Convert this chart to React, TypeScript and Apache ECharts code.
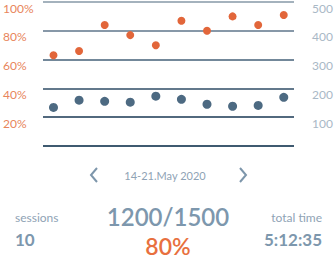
import React, { useEffect, useRef } from "react";
import * as echarts from "echarts";

const dayIndex = [0, 1, 2, 3, 4, 5, 6, 7, 8, 9];
const completionPct = [63, 66, 84, 77, 70, 87, 80, 90, 84, 91];
const sessionValues = [134, 159, 155, 152, 173, 162, 145, 138, 141, 169];
const leftTicks = ["0%", "20%", "40%", "60%", "80%", "100%"];
const dateLabel = "14-21.May 2020";
const sessionsLabel = "sessions";
const sessionsCount = "10";
const ratioLabel = "1200/1500";
const ratioPct = "80%";
const totalTimeLabel = "total time";
const totalTimeValue = "5:12:35";

const FONT = "Lato, 'Open Sans', sans-serif";
const BLUE_TEXT = "#7d97ad";
const ORANGE = "#e2663a";

export default function App() {
  const ref = useRef<HTMLDivElement>(null);
  useEffect(() => {
    if (!ref.current) return;
    const chart = echarts.init(ref.current, null, { renderer: "svg" });
    const lineColors = ["#3f5a70", "#52697e", "#63798c", "#73889a", "#8798a8", "#a4b2bd"];
    chart.setOption({
      animation: false,
      textStyle: { fontFamily: FONT },
      grid: { left: 40, right: 41, top: 2, bottom: 116 },
      xAxis: {
        type: "value",
        min: -0.41,
        max: 9.4,
        show: false,
      },
      yAxis: [
        {
          type: "value",
          min: 0,
          max: 100,
          interval: 20,
          position: "left",
          axisLine: { show: false },
          axisTick: { show: false },
          splitLine: { show: true, lineStyle: { color: lineColors, width: 2 } },
          axisLabel: {
            formatter: (v: number) => (v === 0 ? "" : leftTicks[v / 20]),
            color: "#e8855b",
            fontSize: 12,
            fontFamily: FONT,
            align: "left",
            verticalAlign: "top",
            margin: 40,
            padding: [0, 0, 0, 0],
          },
        },
        {
          type: "value",
          min: 0,
          max: 500,
          interval: 100,
          position: "right",
          axisLine: { show: false },
          axisTick: { show: false },
          splitLine: { show: false },
          axisLabel: {
            formatter: (v: number) => (v === 0 ? "" : String(v)),
            color: "#a9b8c6",
            fontSize: 12,
            fontFamily: FONT,
            align: "right",
            verticalAlign: "top",
            margin: 39,
            padding: [0, 0, 0, 0],
          },
        },
      ],
      series: [
        {
          type: "scatter",
          yAxisIndex: 0,
          symbolSize: 8,
          itemStyle: { color: ORANGE, opacity: 1 },
          data: dayIndex.map((d, i) => [d, completionPct[i]]),
        },
        {
          type: "scatter",
          yAxisIndex: 1,
          symbolSize: 9,
          itemStyle: { color: "#4d6a82", opacity: 1 },
          data: dayIndex.map((d, i) => [d, sessionValues[i]]),
        },
      ],
      graphic: [
        {
          type: "polyline",
          shape: { points: [[97, 168], [91, 175], [97, 182]] },
          style: { stroke: "#7d96ab", lineWidth: 2, fill: "none" },
        },
        {
          type: "polyline",
          shape: { points: [[240, 168], [246, 175], [240, 182]] },
          style: { stroke: "#7d96ab", lineWidth: 2, fill: "none" },
        },
        {
          type: "text",
          x: 165,
          y: 175,
          style: { text: dateLabel, fill: "#8fa3b5", font: `11px ${FONT}`, align: "center", verticalAlign: "middle" },
        },
        {
          type: "text",
          x: 15,
          y: 217,
          style: { text: sessionsLabel, fill: "#8fa3b5", font: `12px ${FONT}`, align: "left", verticalAlign: "middle" },
        },
        {
          type: "text",
          x: 15,
          y: 239,
          style: { text: sessionsCount, fill: BLUE_TEXT, font: `bold 17px ${FONT}`, align: "left", verticalAlign: "middle" },
        },
        {
          type: "text",
          x: 168,
          y: 216,
          style: { text: ratioLabel, fill: BLUE_TEXT, font: `600 24px ${FONT}`, align: "center", verticalAlign: "middle" },
        },
        {
          type: "text",
          x: 168,
          y: 246,
          style: { text: ratioPct, fill: "#e8703e", font: `600 23px ${FONT}`, align: "center", verticalAlign: "middle" },
        },
        {
          type: "text",
          x: 322,
          y: 217,
          style: { text: totalTimeLabel, fill: "#8fa3b5", font: `12px ${FONT}`, align: "right", verticalAlign: "middle" },
        },
        {
          type: "text",
          x: 322,
          y: 239,
          style: { text: totalTimeValue, fill: BLUE_TEXT, font: `bold 17px ${FONT}`, align: "right", verticalAlign: "middle" },
        },
      ],
    });
    return () => chart.dispose();
  }, []);
  return (
    <div
      ref={ref}
      style={{ width: 336, height: 262, position: "absolute", left: 0, top: 0, background: "#fff" }}
    />
  );
}
